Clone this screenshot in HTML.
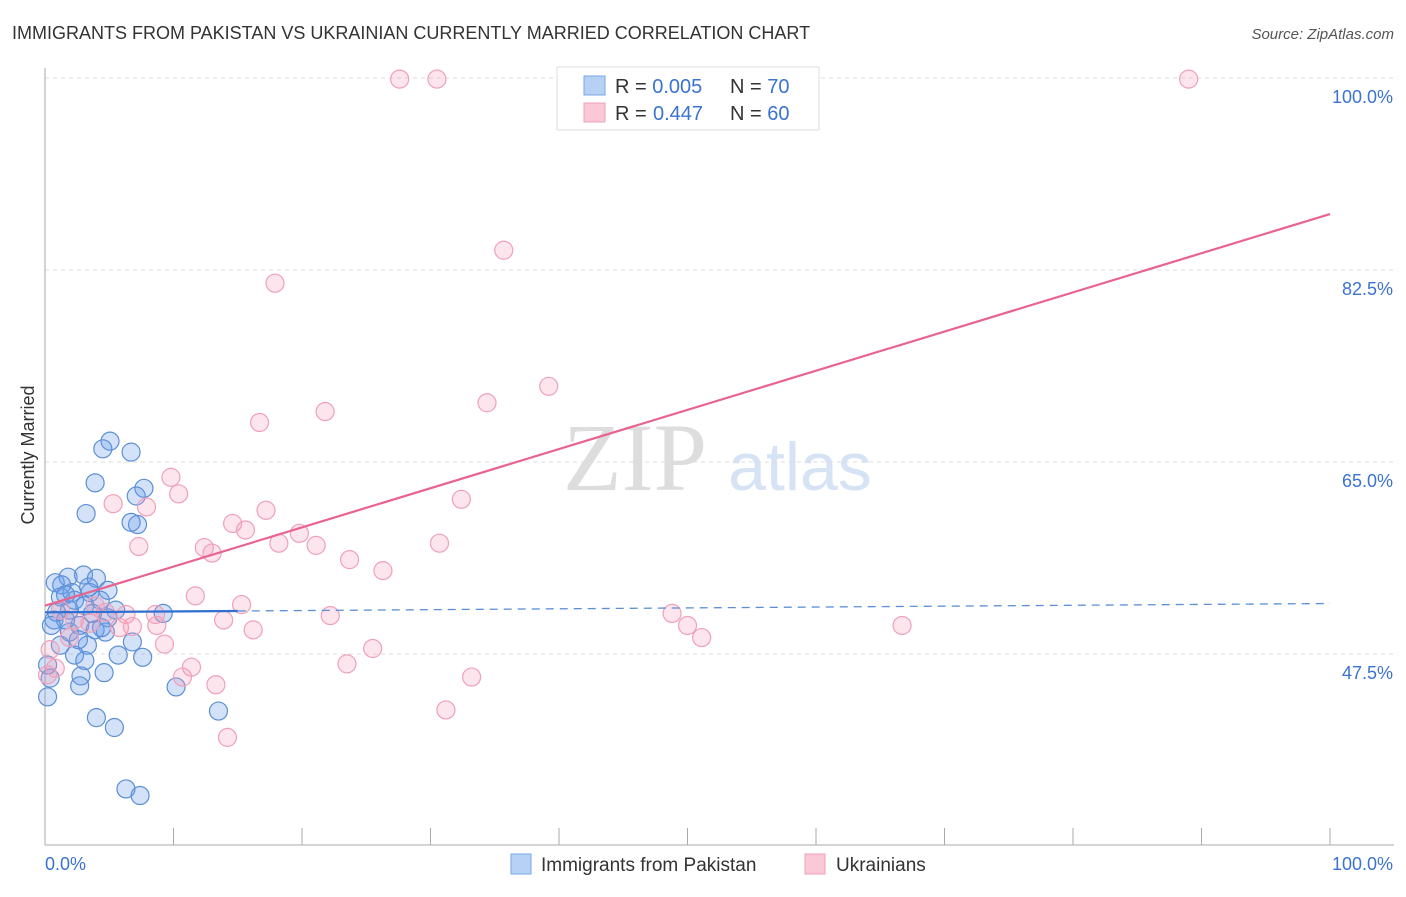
<!DOCTYPE html>
<html><head><meta charset="utf-8"><style>
body{margin:0;background:#fff;font-family:"Liberation Sans",sans-serif}
</style></head><body>
<svg id="chart" width="1406" height="892" xmlns="http://www.w3.org/2000/svg">
<text x="12" y="39" font-size="18" fill="#333">IMMIGRANTS FROM PAKISTAN VS UKRAINIAN CURRENTLY MARRIED CORRELATION CHART</text>
<text x="1394" y="39" font-size="15" fill="#555" text-anchor="end" font-style="italic">Source: ZipAtlas.com</text>
<text x="635" y="490" font-size="96" fill="#ddd" font-family="Liberation Serif,serif" text-anchor="middle">ZIP</text>
<text x="800" y="490" font-size="68" fill="#d6e3f5" text-anchor="middle">atlas</text>
<text transform="translate(34,455) rotate(-90)" font-size="18" fill="#333" text-anchor="middle">Currently Married</text>
<g id="grid"></g><g id="marks"></g>
<g>
<rect x="557" y="67" width="262" height="63" fill="#fff" stroke="#ddd"/>
<rect x="584" y="76" width="21" height="19" fill="#b7d1f5" stroke="#7aa6e8"/>
<rect x="584" y="103" width="21" height="19" fill="#fbc8d7" stroke="#f0a0b8"/>
<text x="615" y="93" font-size="20" fill="#333">R = <tspan fill="#3b73d0">0.005</tspan><tspan x="730">N = </tspan><tspan fill="#3b73d0">70</tspan></text>
<text x="615" y="120" font-size="20" fill="#333">R = <tspan fill="#3b73d0" x="653">0.447</tspan><tspan x="730">N = </tspan><tspan fill="#3b73d0">60</tspan></text>
</g>
<g>
<rect x="511" y="854" width="20" height="20" fill="#b7d1f5" stroke="#7aa6e8"/>
<text x="541" y="871" font-size="19" fill="#333">Immigrants from Pakistan</text>
<rect x="805" y="854" width="20" height="20" fill="#fbc8d7" stroke="#f0a0b8"/>
<text x="836" y="871" font-size="19" fill="#333">Ukrainians</text>
</g>
</svg>
<script>
const yTicks=[47.5,65.0,82.5,100.0];
const yTickLabels=["47.5%","65.0%","82.5%","100.0%"];
const xTickLabels=["0.0%","100.0%"];
const blueX=[5.06,4.5,6.7,3.9,7.7,7.1,7.2,6.7,3.2,0.8,1.8,3.0,4.0,4.9,1.2,2.1,3.5,5.5,9.2,0.7,1.9,2.7,3.9,4.7,1.9,3.3,2.3,6.8,5.7,7.6,3.1,2.8,4.6,2.7,0.4,0.2,10.2,13.5,4.0,5.4,0.2,6.3,7.4,1.3,2.3,4.3,0.9,1.6,3.1,3.7,4.9,2.6,1.2,0.5,3.4,1.6,4.4];
const blueY=[66.9,66.2,65.9,63.1,62.6,61.9,59.3,59.5,60.3,54.0,54.5,54.7,54.4,53.3,52.7,53.1,53.1,51.5,51.2,50.6,51.5,50.1,49.7,49.5,49.5,48.3,47.4,48.6,47.4,47.2,46.9,45.5,45.8,44.6,45.3,46.5,44.5,42.3,41.7,40.8,43.6,35.2,34.6,53.8,52.4,52.4,51.3,50.6,51.9,51.2,50.8,48.8,48.3,50.1,53.6,52.9,49.9];
const pinkX=[27.6,30.5,89.0,35.7,17.9,39.2,34.4,21.8,16.7,9.8,10.4,5.3,7.9,32.4,17.2,14.6,15.6,19.8,7.3,12.4,13.0,18.2,21.1,30.7,23.7,26.3,11.7,15.3,8.6,6.3,13.9,22.2,48.8,50.0,51.1,66.7,5.8,6.8,8.7,16.2,9.3,25.5,23.5,11.4,10.7,33.2,13.3,31.2,14.2,0.4,0.8,3.9,3.5,1.2,2.3,4.7,0.2,1.9];
const pinkY=[99.9,99.9,99.9,84.3,81.3,71.9,70.4,69.6,68.6,63.6,62.1,61.2,60.9,61.6,60.6,59.4,58.8,58.5,57.3,57.2,56.7,57.6,57.4,57.6,56.1,55.1,52.8,52.0,51.1,51.1,50.6,51.0,51.2,50.1,49.0,50.1,49.9,50.0,50.1,49.7,48.4,48.0,46.6,46.3,45.4,45.4,44.7,42.4,39.9,47.9,46.2,51.9,50.3,51.5,50.6,51.3,45.6,49.0];
const pinkTrend=[51.9,87.6];
const blueTrend=[51.3,52.1];
const NS="http://www.w3.org/2000/svg";
const X=v=>45+v*12.85;
const Y=v=>78+(100-v)*192/17.5;
function mk(tag,attrs,parent){const e=document.createElementNS(NS,tag);for(const k in attrs)e.setAttribute(k,attrs[k]);document.getElementById(parent).appendChild(e);return e;}
yTicks.forEach((t,i)=>{
 const g=mk('line',{x1:45,x2:1394,y1:Y(t),y2:Y(t),stroke:'#ddd','stroke-dasharray':'4,4'},'grid');
 
 
 const l=mk('text',{x:1393,y:Y(t)+25,'font-size':18,fill:'#3b73d0','text-anchor':'end'},'grid');
 l.textContent=yTickLabels[i];
 
 
});
const ax=mk('line',{x1:45,x2:45,y1:68,y2:845,stroke:'#aaa'},'grid');


const bx=mk('line',{x1:45,x2:1394,y1:845,y2:845,stroke:'#aaa'},'grid');


for(let i=0;i<=10;i++){
 const t=mk('line',{x1:X(i*10),x2:X(i*10),y1:828,y2:845,stroke:'#aaa'},'grid');
 
 
}
[[0,'start'],[100,'end']].forEach((p,i)=>{
 const l=mk('text',{x:i?1393:45,y:870,'font-size':18,fill:'#3b73d0','text-anchor':p[1]},'grid');
 l.textContent=xTickLabels[i];
 
 
});
blueX.forEach((v,i)=>{
 const c=mk('circle',{cx:X(v),cy:Y(blueY[i]),r:9,fill:'rgba(110,160,235,0.3)',stroke:'#5b8fd6','stroke-width':1.2},'marks');
 
 
});
pinkX.forEach((v,i)=>{
 const c=mk('circle',{cx:X(v),cy:Y(pinkY[i]),r:9,fill:'rgba(245,150,180,0.25)',stroke:'#f0a0b8','stroke-width':1.2},'marks');
 
 
});
const pt=mk('line',{x1:X(0),y1:Y(pinkTrend[0]),x2:X(100),y2:Y(pinkTrend[1]),stroke:'#e8648e','stroke-width':2.2},'marks');


const bs=(blueTrend[1]-blueTrend[0])/100;
const b1=mk('line',{x1:X(0),y1:Y(blueTrend[0]),x2:X(15),y2:Y(blueTrend[0]+bs*15),stroke:'#2f6fd0','stroke-width':2.2},'marks');


const b2=mk('line',{x1:X(15),y1:Y(blueTrend[0]+bs*15),x2:X(100),y2:Y(blueTrend[1]),stroke:'#5b8fd6','stroke-width':1.3,'stroke-dasharray':'8,6'},'marks');


</script>
</body></html>
